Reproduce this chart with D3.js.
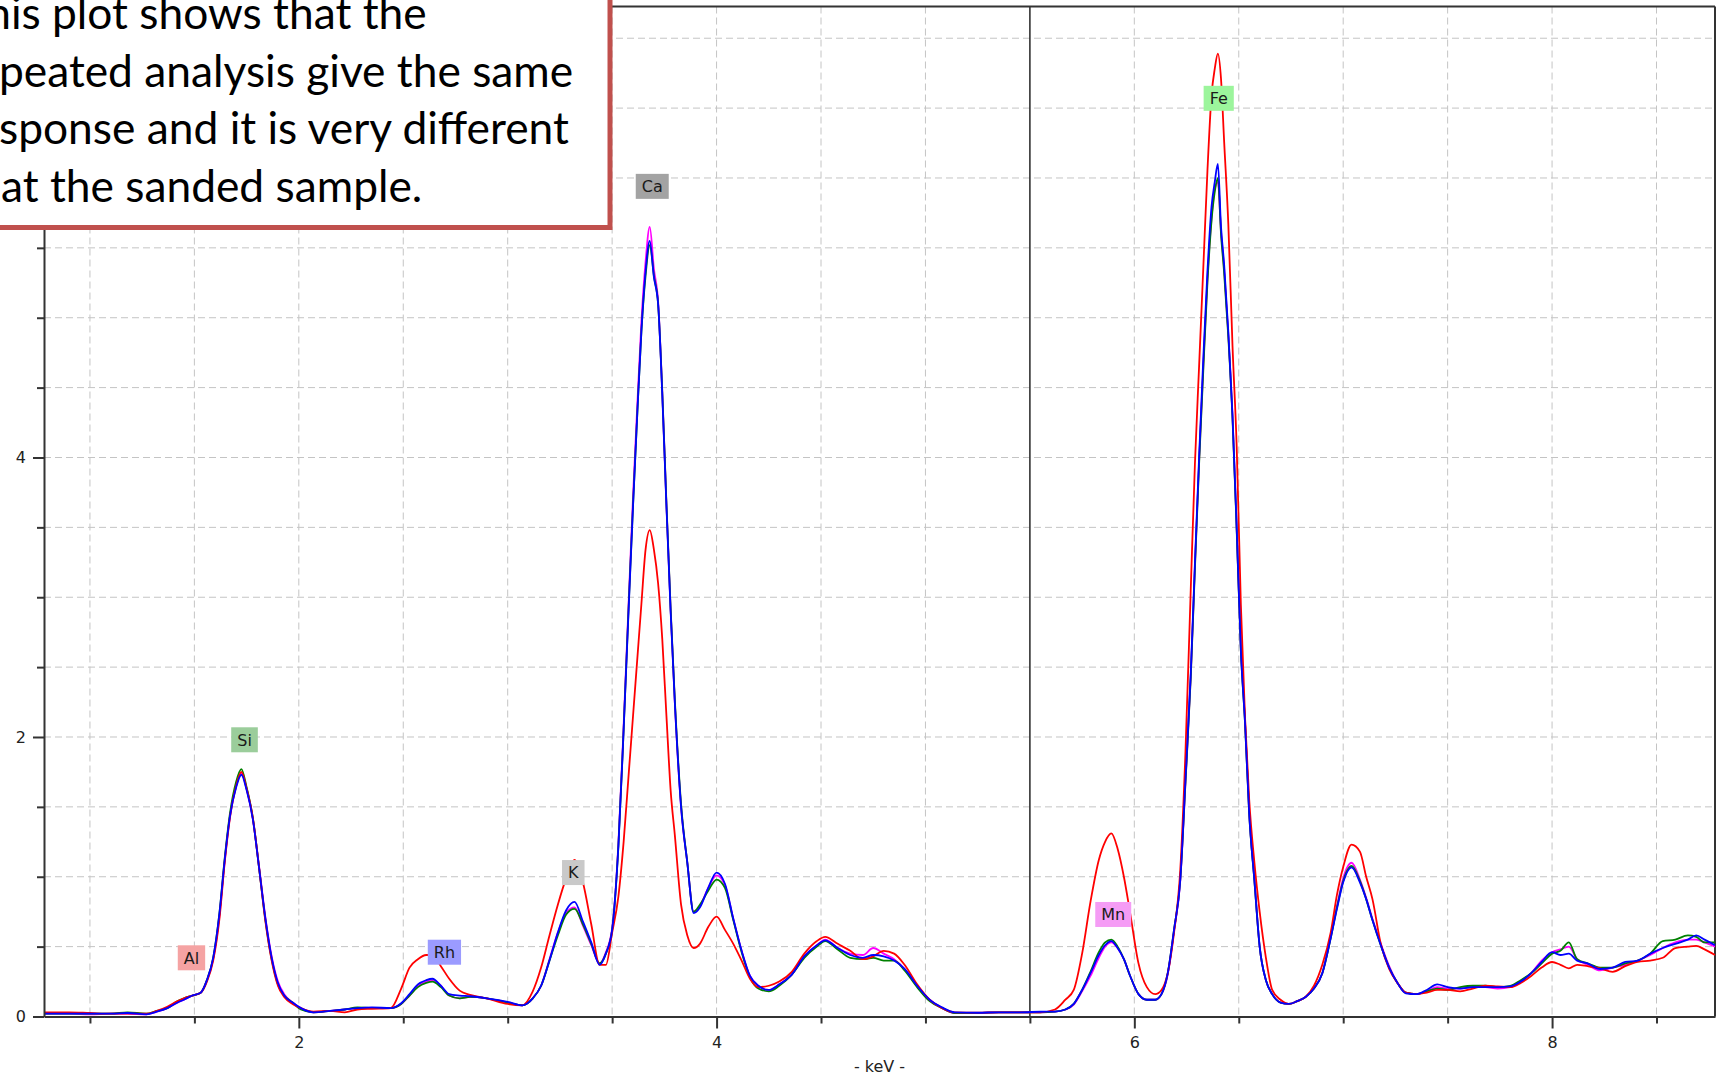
<!DOCTYPE html>
<html>
<head>
<meta charset="utf-8">
<title>XRF spectrum</title>
<script src="https://cdn.jsdelivr.net/npm/d3@7/dist/d3.min.js"></script>
<style>
    html, body { margin: 0; padding: 0; background: #fff; overflow: hidden; }
    svg { display: block; }
    .grid line { stroke: #c4c4c4; stroke-width: 1; stroke-dasharray: 7,4; }
    .axis path, .axis line { stroke: #333; stroke-width: 2; }
    .axis text { font-family: "DejaVu Sans", sans-serif; font-size: 16px; fill: #222; }
    .tag text { font-family: "DejaVu Sans", sans-serif; font-size: 16px; fill: #1a1a1a; }
    .note text { font-family: Lato, "Open Sans", sans-serif; font-size: 44.3px; fill: #000; }
</style>
</head>
<body>
<div id="chart"></div>
<script>
// energy channels (keV) shared by the four spectra
var energy = [
    0.78, 0.9, 1.0, 1.1, 1.18, 1.27, 1.32, 1.37, 1.42, 1.45,
    1.49, 1.53, 1.56, 1.59, 1.62, 1.645, 1.67, 1.70, 1.725, 1.75,
    1.78, 1.81, 1.84, 1.87, 1.90, 1.93, 1.97, 2.01, 2.07, 2.15,
    2.22, 2.28, 2.35, 2.44, 2.49, 2.53, 2.57, 2.61, 2.64, 2.68,
    2.72, 2.77, 2.82, 2.90, 3.0, 3.07, 3.12, 3.16, 3.20, 3.24,
    3.28, 3.32, 3.36, 3.40, 3.44, 3.47, 3.50, 3.53, 3.555, 3.58,
    3.60, 3.62, 3.64, 3.66, 3.68, 3.70, 3.72, 3.74, 3.76, 3.78,
    3.80, 3.83, 3.86, 3.89, 3.92, 3.96, 4.0, 4.04, 4.08, 4.12,
    4.16, 4.20, 4.25, 4.30, 4.36, 4.42, 4.48, 4.52, 4.58, 4.64,
    4.70, 4.75, 4.80, 4.85, 4.90, 4.96, 5.02, 5.08, 5.14, 5.25,
    5.35, 5.45, 5.55, 5.62, 5.67, 5.71, 5.75, 5.79, 5.83, 5.86,
    5.89, 5.92, 5.95, 5.98, 6.02, 6.06, 6.10, 6.13, 6.16, 6.19,
    6.22, 6.245, 6.27, 6.29, 6.31, 6.33, 6.35, 6.37, 6.385, 6.40,
    6.415, 6.43, 6.45, 6.47, 6.49, 6.51, 6.53, 6.55, 6.575, 6.60,
    6.63, 6.66, 6.70, 6.74, 6.78, 6.82, 6.86, 6.90, 6.94, 6.97,
    7.0, 7.04, 7.08, 7.11, 7.14, 7.18, 7.22, 7.26, 7.30, 7.35,
    7.40, 7.45, 7.50, 7.56, 7.62, 7.68, 7.74, 7.80, 7.85, 7.90,
    7.95, 8.0, 8.04, 8.08, 8.12, 8.17, 8.23, 8.29, 8.35, 8.41,
    8.47, 8.53, 8.59, 8.65, 8.69, 8.73, 8.78
];

// sanded sample (red)
var sanded = [
    0.03, 0.03, 0.025, 0.02, 0.02, 0.02, 0.04, 0.07, 0.11, 0.13,
    0.15, 0.17, 0.25, 0.40, 0.70, 1.10, 1.42, 1.65, 1.75, 1.63,
    1.42, 1.06, 0.68, 0.40, 0.22, 0.14, 0.09, 0.06, 0.035, 0.04,
    0.03, 0.05, 0.055, 0.06, 0.20, 0.35, 0.41, 0.44, 0.44, 0.36,
    0.27, 0.185, 0.155, 0.13, 0.09, 0.08, 0.18, 0.35, 0.58, 0.80,
    0.99, 1.12, 0.96, 0.66, 0.37, 0.37, 0.60, 0.86, 1.25, 1.75,
    2.15, 2.55, 2.95, 3.34, 3.48, 3.34, 3.10, 2.70, 2.15, 1.62,
    1.30, 0.80, 0.58, 0.49, 0.52, 0.64, 0.715, 0.62, 0.52, 0.40,
    0.27, 0.21, 0.22, 0.25, 0.32, 0.45, 0.54, 0.57, 0.52, 0.47,
    0.41, 0.43, 0.47, 0.45, 0.37, 0.23, 0.12, 0.06, 0.03, 0.027,
    0.03, 0.03, 0.03, 0.05, 0.12, 0.19, 0.45, 0.82, 1.12, 1.25,
    1.31, 1.20, 1.00, 0.74, 0.38, 0.21, 0.16, 0.19, 0.31, 0.60,
    1.05, 1.90, 3.05, 3.95, 4.65, 5.35, 6.05, 6.60, 6.78, 6.89,
    6.71, 6.26, 5.67, 4.80, 4.08, 2.95, 2.14, 1.55, 1.10, 0.75,
    0.42, 0.19, 0.12, 0.09, 0.11, 0.14, 0.22, 0.37, 0.60, 0.87,
    1.07, 1.23, 1.18, 1.00, 0.84, 0.52, 0.34, 0.24, 0.17, 0.16,
    0.17, 0.19, 0.19, 0.18, 0.20, 0.22, 0.215, 0.21, 0.24, 0.29,
    0.35, 0.39, 0.37, 0.345, 0.37, 0.36, 0.345, 0.32, 0.36, 0.39,
    0.40, 0.42, 0.49, 0.50, 0.505, 0.48, 0.44
];

// repeated analysis 1 (magenta)
var repeat1 = [
    0.02, 0.02, 0.015, 0.02, 0.02, 0.015, 0.035, 0.06, 0.10, 0.12,
    0.15, 0.17, 0.26, 0.41, 0.72, 1.11, 1.43, 1.65, 1.74, 1.63,
    1.41, 1.07, 0.71, 0.43, 0.25, 0.16, 0.10, 0.06, 0.03, 0.04,
    0.05, 0.06, 0.06, 0.06, 0.09, 0.15, 0.22, 0.25, 0.26, 0.22,
    0.15, 0.13, 0.14, 0.13, 0.10, 0.08, 0.13, 0.22, 0.41, 0.60,
    0.74, 0.78, 0.65, 0.51, 0.38, 0.46, 0.63, 1.24, 2.08, 3.00,
    3.72, 4.36, 4.97, 5.40, 5.65, 5.35, 5.12, 4.47, 3.66, 2.91,
    2.25, 1.50, 1.10, 0.75, 0.79, 0.92, 1.01, 0.94, 0.70, 0.47,
    0.29, 0.22, 0.19, 0.23, 0.30, 0.43, 0.51, 0.55, 0.49, 0.45,
    0.44, 0.49, 0.45, 0.41, 0.34, 0.22, 0.12, 0.06, 0.025, 0.025,
    0.03, 0.03, 0.03, 0.035, 0.05, 0.085, 0.18, 0.29, 0.42, 0.50,
    0.53, 0.49, 0.41, 0.29, 0.16, 0.12, 0.12, 0.16, 0.30, 0.61,
    0.97, 1.68, 2.43, 3.22, 3.97, 4.65, 5.28, 5.72, 5.92, 5.97,
    5.62, 5.35, 4.88, 4.30, 3.50, 2.64, 2.12, 1.46, 0.98, 0.50,
    0.26, 0.16, 0.10, 0.09, 0.11, 0.14, 0.20, 0.31, 0.57, 0.79,
    0.99, 1.10, 0.98, 0.85, 0.70, 0.52, 0.36, 0.24, 0.17, 0.16,
    0.18, 0.21, 0.20, 0.20, 0.21, 0.21, 0.20, 0.21, 0.25, 0.31,
    0.40, 0.46, 0.48, 0.50, 0.41, 0.37, 0.33, 0.35, 0.37, 0.40,
    0.44, 0.49, 0.53, 0.55, 0.55, 0.53, 0.50
];

// repeated analysis 2 (green)
var repeat2 = [
    0.02, 0.02, 0.02, 0.02, 0.03, 0.02, 0.04, 0.06, 0.11, 0.13,
    0.15, 0.17, 0.26, 0.42, 0.74, 1.13, 1.45, 1.68, 1.77, 1.64,
    1.42, 1.06, 0.69, 0.41, 0.23, 0.15, 0.10, 0.05, 0.03, 0.04,
    0.05, 0.065, 0.06, 0.06, 0.09, 0.15, 0.21, 0.24, 0.25, 0.21,
    0.15, 0.13, 0.14, 0.13, 0.10, 0.08, 0.13, 0.22, 0.40, 0.58,
    0.73, 0.77, 0.66, 0.52, 0.38, 0.45, 0.62, 1.22, 2.05, 2.97,
    3.66, 4.30, 4.90, 5.30, 5.52, 5.30, 5.10, 4.47, 3.67, 2.92,
    2.27, 1.52, 1.10, 0.75, 0.80, 0.90, 0.98, 0.92, 0.69, 0.46,
    0.28, 0.20, 0.18, 0.22, 0.30, 0.42, 0.50, 0.54, 0.48, 0.42,
    0.41, 0.42, 0.40, 0.40, 0.33, 0.21, 0.11, 0.06, 0.025, 0.025,
    0.03, 0.03, 0.03, 0.035, 0.05, 0.09, 0.19, 0.32, 0.46, 0.53,
    0.55, 0.50, 0.41, 0.29, 0.16, 0.12, 0.12, 0.16, 0.31, 0.62,
    0.98, 1.68, 2.42, 3.20, 3.95, 4.62, 5.25, 5.70, 5.90, 6.00,
    5.60, 5.32, 4.86, 4.28, 3.48, 2.62, 2.10, 1.45, 0.97, 0.50,
    0.26, 0.16, 0.10, 0.09, 0.11, 0.14, 0.20, 0.31, 0.56, 0.78,
    0.97, 1.077, 0.97, 0.84, 0.69, 0.51, 0.35, 0.24, 0.17, 0.16,
    0.18, 0.20, 0.19, 0.21, 0.22, 0.22, 0.21, 0.22, 0.26, 0.31,
    0.38, 0.45, 0.47, 0.53, 0.41, 0.38, 0.35, 0.35, 0.38, 0.40,
    0.45, 0.54, 0.55, 0.58, 0.57, 0.53, 0.53
];

// repeated analysis 3 (blue)
var repeat3 = [
    0.02, 0.02, 0.02, 0.02, 0.025, 0.015, 0.035, 0.06, 0.10, 0.12,
    0.15, 0.17, 0.26, 0.42, 0.74, 1.12, 1.43, 1.64, 1.73, 1.62,
    1.41, 1.06, 0.70, 0.42, 0.24, 0.15, 0.10, 0.06, 0.03, 0.04,
    0.05, 0.06, 0.065, 0.06, 0.095, 0.16, 0.23, 0.26, 0.27, 0.22,
    0.16, 0.15, 0.145, 0.13, 0.105, 0.08, 0.13, 0.22, 0.40, 0.60,
    0.76, 0.82, 0.68, 0.53, 0.37, 0.45, 0.62, 1.22, 2.05, 2.95,
    3.65, 4.30, 4.90, 5.33, 5.55, 5.29, 5.10, 4.45, 3.65, 2.90,
    2.25, 1.50, 1.10, 0.74, 0.78, 0.92, 1.03, 0.95, 0.70, 0.47,
    0.29, 0.22, 0.19, 0.23, 0.30, 0.43, 0.51, 0.545, 0.49, 0.44,
    0.42, 0.44, 0.43, 0.40, 0.34, 0.22, 0.12, 0.065, 0.03, 0.027,
    0.03, 0.03, 0.034, 0.035, 0.05, 0.09, 0.19, 0.31, 0.44, 0.51,
    0.54, 0.49, 0.41, 0.29, 0.16, 0.12, 0.12, 0.16, 0.31, 0.62,
    0.98, 1.70, 2.45, 3.24, 4.00, 4.70, 5.33, 5.80, 5.97, 6.10,
    5.65, 5.38, 4.90, 4.30, 3.50, 2.62, 2.10, 1.45, 0.97, 0.50,
    0.26, 0.16, 0.10, 0.09, 0.11, 0.14, 0.20, 0.31, 0.56, 0.77,
    0.96, 1.067, 0.96, 0.84, 0.69, 0.51, 0.35, 0.24, 0.166, 0.16,
    0.19, 0.23, 0.21, 0.20, 0.21, 0.21, 0.21, 0.215, 0.25, 0.31,
    0.39, 0.46, 0.44, 0.45, 0.40, 0.38, 0.34, 0.35, 0.39, 0.40,
    0.45, 0.49, 0.52, 0.55, 0.58, 0.55, 0.51
];

// element markers
var elements = ["Al", "Si", "Rh", "K", "Ca", "Mn", "Fe"];
var lineEnergy = [1.486, 1.740, 2.697, 3.314, 3.692, 5.899, 6.404];
var tagHeight = [0.42, 1.98, 0.46, 1.03, 5.94, 0.73, 6.57];

// axes ("6" sits under the comment box in the original, so no label is drawn for it)
var xTickValues = [1, 1.5, 2, 2.5, 3, 3.5, 4, 4.5, 5, 5.5, 6, 6.5, 7, 7.5, 8, 8.5];
var xTickLabels = [2, 4, 6, 8];
var yTickValues = [0, 0.5, 1, 1.5, 2, 2.5, 3, 3.5, 4, 4.5, 5, 5.5, 6, 6.5, 7];
var yMajorTicks = [0, 2, 4, 6];
var yTickLabels = [0, 2, 4];
var markerEnergy = 5.5;

var noteLines = [
    "This plot shows that the",
    "repeated analysis give the same",
    "response and it is very different",
    "that the sanded sample."
];

var tagColors = {
    Al: "#f5a3a3", Si: "#9bcd9b", Rh: "#9b9bff", K: "#c9c9c9",
    Ca: "#a3a3a3", Mn: "#f59cf5", Fe: "#9cf59c"
};

var W = 1719, H = 1072;
var plot = { left: 44, right: 1715, top: 6.5, bottom: 1016.5 };

var x = d3.scaleLinear().domain([0.78, 8.78]).range([plot.left, plot.right]);
var y = d3.scaleLinear().domain([0, 7.227]).range([plot.bottom, plot.top]);

var svg = d3.select("#chart").append("svg")
    .attr("width", W)
    .attr("height", H);

// dashed grid
var grid = svg.append("g").attr("class", "grid");
grid.selectAll("line.v")
    .data(xTickValues.filter(function (d) { return d !== markerEnergy; }))
    .enter().append("line")
    .attr("class", "v")
    .attr("x1", function (d) { return x(d); })
    .attr("x2", function (d) { return x(d); })
    .attr("y1", plot.top)
    .attr("y2", plot.bottom);
grid.selectAll("line.h")
    .data(yTickValues.slice(1))
    .enter().append("line")
    .attr("class", "h")
    .attr("x1", plot.left)
    .attr("x2", plot.right)
    .attr("y1", function (d) { return y(d); })
    .attr("y2", function (d) { return y(d); });

// frame and marker line
svg.append("line")
    .attr("x1", plot.left).attr("x2", plot.right)
    .attr("y1", plot.top).attr("y2", plot.top)
    .attr("stroke", "#333").attr("stroke-width", 2);
svg.append("line")
    .attr("x1", plot.right).attr("x2", plot.right)
    .attr("y1", plot.top).attr("y2", plot.bottom)
    .attr("stroke", "#333").attr("stroke-width", 2);
svg.append("line")
    .attr("x1", x(markerEnergy)).attr("x2", x(markerEnergy))
    .attr("y1", plot.top).attr("y2", plot.bottom)
    .attr("stroke", "#333").attr("stroke-width", 1.6);

// spectra
var series = [
    { name: "repeat1", values: repeat1, color: "#ff00ff" },
    { name: "repeat2", values: repeat2, color: "#008000" },
    { name: "sanded", values: sanded, color: "#ff0000" },
    { name: "repeat3", values: repeat3, color: "#0000ff" }
];

var line = d3.line()
    .x(function (d, i) { return x(energy[i]); })
    .y(function (d) { return y(d); })
    .curve(d3.curveMonotoneX);

svg.append("g").selectAll("path")
    .data(series)
    .enter().append("path")
    .attr("fill", "none")
    .attr("stroke", function (d) { return d.color; })
    .attr("stroke-width", 1.8)
    .attr("stroke-linejoin", "round")
    .attr("d", function (d) { return line(d.values); });

// axes
var xAxis = d3.axisBottom(x)
    .tickValues(xTickValues)
    .tickSize(7)
    .tickSizeOuter(0)
    .tickFormat(function (d) { return xTickLabels.indexOf(d) >= 0 ? d : ""; });

var gx = svg.append("g")
    .attr("class", "axis")
    .attr("transform", "translate(0," + plot.bottom + ")")
    .call(xAxis);
gx.selectAll(".tick")
    .filter(function (d) { return xTickLabels.indexOf(d) >= 0; })
    .select("line").attr("y2", 12);
gx.selectAll(".tick text").attr("y", 20);

var yAxis = d3.axisLeft(y)
    .tickValues(yTickValues)
    .tickSize(7)
    .tickSizeOuter(0)
    .tickFormat(function (d) { return yTickLabels.indexOf(d) >= 0 ? d : ""; });

var gy = svg.append("g")
    .attr("class", "axis")
    .attr("transform", "translate(" + plot.left + ",0)")
    .call(yAxis);
gy.selectAll(".tick")
    .filter(function (d) { return yMajorTicks.indexOf(d) >= 0; })
    .select("line").attr("x2", -11);
gy.selectAll(".tick text").attr("x", -18);

svg.append("text")
    .attr("class", "axis")
    .attr("x", (plot.left + plot.right) / 2)
    .attr("y", 1072)
    .attr("text-anchor", "middle")
    .style("font-family", "'DejaVu Sans', sans-serif")
    .style("font-size", "16px")
    .style("fill", "#222")
    .text("- keV -");

// element tags
var tags = svg.append("g").attr("class", "tag")
    .selectAll("g")
    .data(elements)
    .enter().append("g")
    .attr("transform", function (d, i) {
        return "translate(" + x(lineEnergy[i]) + "," + y(tagHeight[i]) + ")";
    });

tags.append("text")
    .attr("text-anchor", "middle")
    .attr("dy", "0.36em")
    .text(function (d) { return d; });

tags.each(function (d) {
    var g = d3.select(this);
    var w = g.select("text").node().getComputedTextLength() + 12;
    g.insert("rect", "text")
        .attr("x", -w / 2)
        .attr("y", -12.5)
        .attr("width", w)
        .attr("height", 25)
        .attr("fill", tagColors[d]);
});

// comment box in the top left corner
var note = svg.append("g").attr("class", "note");
note.append("rect")
    .attr("x", -20)
    .attr("y", -20)
    .attr("width", 630)
    .attr("height", 247.5)
    .attr("fill", "#fff")
    .attr("stroke", "#c0504d")
    .attr("stroke-width", 5);

// the lines start left of the page edge, so the first letters are cut off
var probe = note.append("text").text("th");
var textLeft = 1 - probe.node().getComputedTextLength();
probe.remove();

note.selectAll("text.line")
    .data(noteLines)
    .enter().append("text")
    .attr("class", "line")
    .attr("x", textLeft)
    .attr("y", function (d, i) { return 29 + i * 57.7; })
    .text(function (d) { return d; });
</script>
</body>
</html>
